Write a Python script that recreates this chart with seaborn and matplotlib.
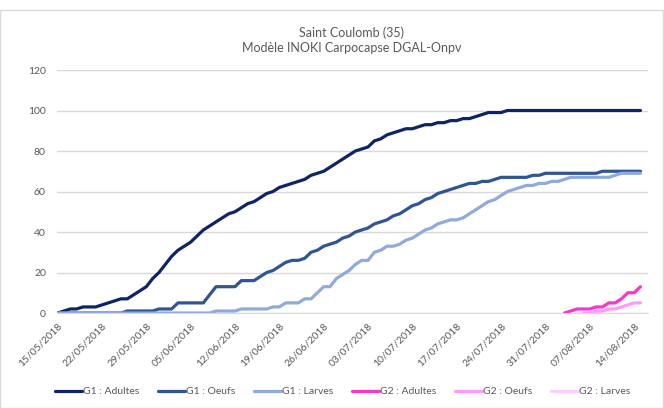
import numpy as np
import pandas as pd
import matplotlib
matplotlib.use("Agg")
import matplotlib.pyplot as plt
import matplotlib.dates as mdates
from matplotlib.lines import Line2D
from matplotlib.patches import Rectangle
import seaborn as sns

# jours du 15/05/2018 au 15/08/2018
dates = pd.date_range("2018-05-15", "2018-08-15", freq="D")

g1_adultes = [0, 1, 2, 2, 3, 3, 3, 4, 5, 6, 7, 7, 9, 11, 13, 17, 20, 24, 28, 31,
              33, 35, 38, 41, 43, 45, 47, 49, 50, 52, 54, 55, 57, 59, 60, 62, 63, 64, 65, 66,
              68, 69, 70, 72, 74, 76, 78, 80, 81, 82, 85, 86, 88, 89, 90, 91, 91, 92, 93, 93,
              94, 94, 95, 95, 96, 96, 97, 98, 99, 99, 99, 100, 100, 100, 100, 100, 100, 100, 100, 100,
              100, 100, 100, 100, 100, 100, 100, 100, 100, 100, 100, 100, 100]
g1_oeufs = [0, 0, 0, 0, 0, 0, 0, 0, 0, 0, 0, 1, 1, 1, 1, 1, 2, 2, 2, 5,
            5, 5, 5, 5, 9, 13, 13, 13, 13, 16, 16, 16, 18, 20, 21, 23, 25, 26, 26, 27,
            30, 31, 33, 34, 35, 37, 38, 40, 41, 42, 44, 45, 46, 48, 49, 51, 53, 54, 56, 57,
            59, 60, 61, 62, 63, 64, 64, 65, 65, 66, 67, 67, 67, 67, 67, 68, 68, 69, 69, 69,
            69, 69, 69, 69, 69, 69, 70, 70, 70, 70, 70, 70, 70]
g1_larves = [0, 0, 0, 0, 0, 0, 0, 0, 0, 0, 0, 0, 0, 0, 0, 0, 0, 0, 0, 0,
             0, 0, 0, 0, 0, 1, 1, 1, 1, 2, 2, 2, 2, 2, 3, 3, 5, 5, 5, 7,
             7, 10, 13, 13, 17, 19, 21, 24, 26, 26, 30, 31, 33, 33, 34, 36, 37, 39, 41, 42,
             44, 45, 46, 46, 47, 49, 51, 53, 55, 56, 58, 60, 61, 62, 63, 63, 64, 64, 65, 65,
             66, 67, 67, 67, 67, 67, 67, 67, 68, 69, 69, 69, 69]
g2_adultes = [None] * 80 + [0, 1, 2, 2, 2, 3, 3, 5, 5, 7, 10, 10, 13]
g2_oeufs = [None] * 83 + [0, 0, 1, 1, 2, 2, 3, 4, 5, 5]
g2_larves = [None] * 93

series = ["G1 : Adultes", "G1 : Oeufs", "G1 : Larves", "G2 : Adultes", "G2 : Oeufs", "G2 : Larves"]
valeurs = [g1_adultes, g1_oeufs, g1_larves, g2_adultes, g2_oeufs, g2_larves]
couleurs = ["#0d2466", "#2f5597", "#8faadc", "#ff33cc", "#ff99ff", "#ffccff"]

sns.set_style("white")
plt.rcParams["font.family"] = ["Lato", "DejaVu Sans"]

fig = plt.figure(figsize=(6.64, 4.08), dpi=100)
ax = fig.add_axes([0.0858, 0.2328, 0.8902, 0.5956])

for nom, v, c in zip(series, valeurs, couleurs):
    s = pd.Series(v, index=dates, dtype=float)
    if s.notna().any():
        sns.lineplot(x=s.index, y=s.values, ax=ax, color=c, linewidth=2.3)

ax.set_ylim(0, 120)
ax.set_yticks(range(0, 121, 20))
ax.set_xlim(dates[0] - pd.Timedelta(days=0.1), dates[0] + pd.Timedelta(days=93.2))
ticks = pd.date_range("2018-05-15", "2018-08-14", freq="7D")
ax.set_xticks(ticks)
ax.xaxis.set_major_formatter(mdates.DateFormatter("%d/%m/%Y"))
plt.setp(ax.get_xticklabels(), rotation=45, ha="right", rotation_mode="anchor")

ax.grid(axis="y", color="#d9d9d9", linewidth=1)
ax.set_axisbelow(True)
for sp in ["top", "right", "left"]:
    ax.spines[sp].set_visible(False)
ax.spines["bottom"].set_color("#d9d9d9")
ax.tick_params(axis="x", colors="#595959", labelsize=7.5, length=4, width=1, direction="out", pad=2)
ax.tick_params(axis="x", color="#d9d9d9")
ax.tick_params(axis="y", colors="#595959", labelsize=7.5, length=0, pad=8)
ax.set_xlabel("")
ax.set_ylabel("")

fig.text(0.53, 0.92, "Saint Coulomb (35)", ha="center", va="center", fontsize=9, color="#595959")
fig.text(0.53, 0.883, "Modèle INOKI Carpocapse DGAL-Onpv", ha="center", va="center", fontsize=9, color="#595959")

handles = [Line2D([0], [0], color=c, linewidth=2.3) for c in couleurs]
fig.legend(handles, series, loc="center", bbox_to_anchor=(0.516, 0.04), ncol=6, frameon=False,
           fontsize=7.5, handlelength=2.6, handletextpad=0.1, columnspacing=1.8, labelcolor="#595959")

fig.patches.append(Rectangle((0.0, 0.0), 0.998, 0.975, transform=fig.transFigure,
                             fill=False, edgecolor="#d9d9d9", linewidth=1))

fig.savefig("out.png", dpi=100)
